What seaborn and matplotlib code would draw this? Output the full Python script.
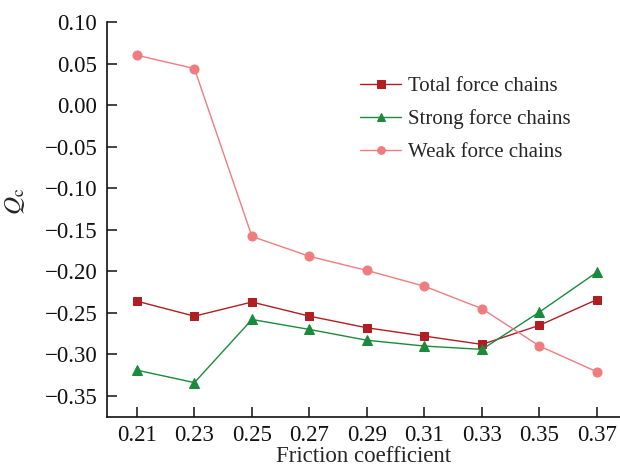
import matplotlib
matplotlib.use("Agg")
import matplotlib.pyplot as plt
import seaborn as sns
import pandas as pd

# Friction coefficient vs. Q_c for the three force-chain groups
friction = [0.21, 0.23, 0.25, 0.27, 0.29, 0.31, 0.33, 0.35, 0.37]
total_chains = [-0.236, -0.254, -0.237, -0.254, -0.268, -0.278, -0.288, -0.265, -0.234]
strong_chains = [-0.319, -0.334, -0.258, -0.270, -0.283, -0.290, -0.294, -0.249, -0.201]
weak_chains = [0.060, 0.044, -0.158, -0.182, -0.199, -0.218, -0.245, -0.290, -0.321]

x_ticks = ["0.21", "0.23", "0.25", "0.27", "0.29", "0.31", "0.33", "0.35", "0.37"]
y_ticks = [0.10, 0.05, 0.00, -0.05, -0.10, -0.15, -0.20, -0.25, -0.30, -0.35]

sns.set_theme(style="ticks")
plt.rcParams["font.family"] = ["Liberation Serif", "DejaVu Serif"]
plt.rcParams["mathtext.fontset"] = "stix"
plt.rcParams["axes.unicode_minus"] = True

df = pd.DataFrame({
    "friction": friction * 3,
    "qc": total_chains + strong_chains + weak_chains,
    "series": (["Total force chains"] * len(friction)
               + ["Strong force chains"] * len(friction)
               + ["Weak force chains"] * len(friction)),
})

styles = {
    "Total force chains": dict(color="#B01E23", marker="s", markersize=6),
    "Strong force chains": dict(color="#1B8A3C", marker="^", markersize=7.5),
    "Weak force chains": dict(color="#F07C80", marker="o", markersize=6.5),
}

fig = plt.figure(figsize=(6.2, 4.71), dpi=100)
ax = fig.add_axes([0.1726, 0.1146, 0.8274, 0.8386])

for name, st in styles.items():
    sub = df[df["series"] == name]
    sns.lineplot(data=sub, x="friction", y="qc", ax=ax, label=name,
                 color=st["color"], marker=st["marker"],
                 markersize=st["markersize"], markeredgecolor=st["color"],
                 linewidth=1.0)

ax.set_xlim(0.1996, 0.378)
ax.set_ylim(-0.3754, 0.10)
ax.set_xticks(friction)
ax.set_xticklabels(x_ticks)
ax.set_yticks(y_ticks)
ax.set_yticklabels([f"{v:.2f}".replace("-", "\u2212") for v in y_ticks])

for side in ("top", "right"):
    ax.spines[side].set_visible(False)
for side in ("left", "bottom"):
    ax.spines[side].set_linewidth(1.2)
    ax.spines[side].set_color("#111111")

ax.tick_params(axis="both", direction="in", length=7, width=1.1,
               labelsize=16.5, colors="#111111")
ax.tick_params(axis="y", pad=7)
ax.tick_params(axis="x", pad=6)

ax.set_xlabel("Friction coefficient", fontsize=16.5, labelpad=0)
ax.set_ylabel(r"$Q_{\mathrm{c}}$", fontsize=18)
ax.yaxis.set_label_coords(-0.155, 0.545)

leg = ax.legend(loc="upper left", bbox_to_anchor=(0.456, 0.91), frameon=False,
                fontsize=15, handlelength=2.0, handletextpad=0.3,
                labelspacing=0.65, markerscale=0.85)

fig.savefig("out.png", dpi=100)
